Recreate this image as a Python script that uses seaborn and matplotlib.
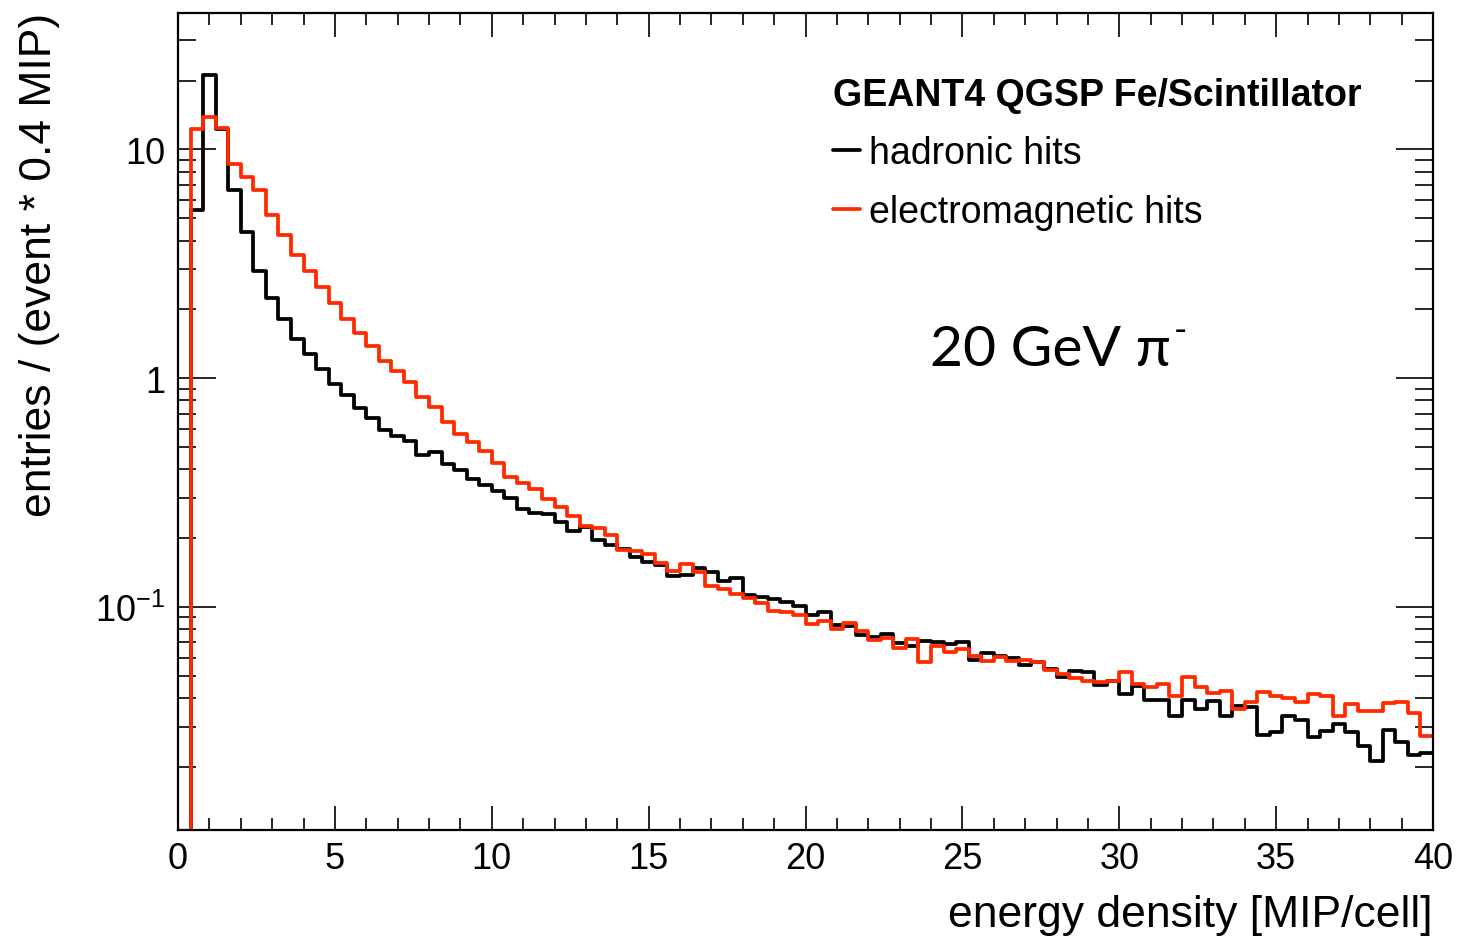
import numpy as np
import pandas as pd
import matplotlib
matplotlib.use("Agg")
import matplotlib.pyplot as plt
from matplotlib.ticker import (FixedLocator, FixedFormatter, LogLocator,
                               MultipleLocator, NullFormatter)
import seaborn as sns

# Energy density per cell, 100 bins of 0.4 MIP between 0 and 40 MIP/cell
bin_width = 0.4
n_bins = 100
x_range = (0.0, 40.0)

# entries / (event * 0.4 MIP), one value per bin
hadronic = [
    0.0, 5.46, 21.1, 12.3, 6.62, 4.36, 2.93, 2.24, 1.81, 1.49,
    1.28, 1.10, 0.946, 0.841, 0.743, 0.669, 0.595, 0.558, 0.533, 0.464,
    0.474, 0.422, 0.398, 0.361, 0.340, 0.323, 0.299, 0.267, 0.258, 0.254,
    0.236, 0.214, 0.223, 0.197, 0.187, 0.179, 0.165, 0.157, 0.153, 0.137,
    0.138, 0.148, 0.142, 0.130, 0.134, 0.113, 0.111, 0.108, 0.105, 0.101,
    0.0923, 0.0954, 0.0834, 0.0826, 0.0754, 0.0737, 0.0762, 0.0696, 0.0673, 0.0712,
    0.0706, 0.0689, 0.0701, 0.0588, 0.0629, 0.0612, 0.0596, 0.0557, 0.0573, 0.0535,
    0.0492, 0.0526, 0.0518, 0.0456, 0.0476, 0.0416, 0.0450, 0.0393, 0.0393, 0.0334,
    0.0393, 0.0360, 0.0389, 0.0334, 0.0368, 0.0364, 0.0275, 0.0283, 0.0334, 0.0321,
    0.0269, 0.0287, 0.0308, 0.0285, 0.0246, 0.0213, 0.0289, 0.0257, 0.0225, 0.0231,
]

electromagnetic = [
    0.0, 12.3, 13.8, 12.4, 8.68, 7.59, 6.64, 5.16, 4.22, 3.47,
    2.93, 2.51, 2.14, 1.81, 1.58, 1.38, 1.19, 1.08, 0.962, 0.827,
    0.750, 0.643, 0.568, 0.526, 0.483, 0.427, 0.369, 0.349, 0.329, 0.297,
    0.273, 0.249, 0.227, 0.222, 0.207, 0.178, 0.175, 0.171, 0.156, 0.143,
    0.154, 0.142, 0.124, 0.120, 0.114, 0.109, 0.104, 0.0964, 0.0948, 0.0923,
    0.0843, 0.0866, 0.0801, 0.0851, 0.0788, 0.0719, 0.0729, 0.0659, 0.0724, 0.0575,
    0.0675, 0.0637, 0.0655, 0.0612, 0.0582, 0.0606, 0.0579, 0.0586, 0.0577, 0.0532,
    0.0509, 0.0488, 0.0476, 0.0471, 0.0476, 0.0521, 0.0460, 0.0445, 0.0460, 0.0408,
    0.0492, 0.0445, 0.0423, 0.0430, 0.0358, 0.0385, 0.0426, 0.0407, 0.0400, 0.0383,
    0.0416, 0.0407, 0.0334, 0.0376, 0.0350, 0.0350, 0.0380, 0.0385, 0.0344, 0.0272,
]

series_names = ["hadronic hits", "electromagnetic hits"]
series_colors = ["#000000", "#ff2a00"]

y_tick_values = [0.1, 1, 10]
y_tick_labels = ["$10^{-1}$", "1", "10"]

sns.set_style("ticks")
plt.rcParams["font.family"] = ["Liberation Sans", "DejaVu Sans"]
plt.rcParams["mathtext.fontset"] = "custom"
plt.rcParams["mathtext.rm"] = "Liberation Sans"
plt.rcParams["mathtext.it"] = "Liberation Sans:italic"
plt.rcParams["mathtext.bf"] = "Liberation Sans:bold"
for key in ["axes.edgecolor", "text.color", "axes.labelcolor",
            "xtick.color", "ytick.color"]:
    plt.rcParams[key] = "black"

# bin centres, used as the sample position of each weighted entry
centers = x_range[0] + bin_width * (np.arange(n_bins) + 0.5)

df = pd.DataFrame({
    "energy": np.concatenate([centers, centers]),
    "entries": hadronic + electromagnetic,
    "hits": [series_names[0]] * n_bins + [series_names[1]] * n_bins,
})

W, H = 1457, 945
fig = plt.figure(figsize=(W / 100, H / 100), dpi=100)
ax = fig.add_axes([178 / W, 1 - 831 / H, (1433 - 178) / W, (831 - 14) / H])

handles = []
for name, color in zip(series_names, series_colors):
    sns.histplot(data=df[df["hits"] == name], x="energy", weights="entries",
                 bins=n_bins, binrange=x_range, element="step", fill=False,
                 color=color, linewidth=2.7, ax=ax)
    line = ax.get_lines()[-1]
    line.set_label(name)
    handles.append(line)

ax.set_yscale("log")
ax.set_xlim(*x_range)
ax.set_ylim(0.0106, 39.5)

ax.xaxis.set_major_locator(MultipleLocator(5))
ax.xaxis.set_minor_locator(MultipleLocator(1))
ax.yaxis.set_major_locator(FixedLocator(y_tick_values))
ax.yaxis.set_major_formatter(FixedFormatter(y_tick_labels))
ax.yaxis.set_minor_locator(LogLocator(base=10, subs=np.arange(2, 10)))
ax.yaxis.set_minor_formatter(NullFormatter())

ax.tick_params(axis="both", which="both", direction="in", top=True,
               right=True, width=1.2, color="black", labelcolor="black",
               labelsize=26)
ax.tick_params(axis="x", which="major", length=17, pad=8)
ax.tick_params(axis="x", which="minor", length=8.6)
ax.tick_params(axis="y", which="major", length=27, pad=9)
ax.tick_params(axis="y", which="minor", length=13)
for spine in ax.spines.values():
    spine.set_linewidth(1.6)
    spine.set_color("black")

ax.set_xlabel("energy density [MIP/cell]", fontsize=32, ha="right",
              color="black")
ax.xaxis.set_label_coords(1.0, -0.078)
ax.set_ylabel("entries / (event * 0.4 MIP)", fontsize=32, color="black")
ax.yaxis.set_label_coords(-0.094, 0.693)

leg = ax.legend(handles=handles, title="GEANT4 QGSP Fe/Scintillator",
                title_fontproperties={"weight": "bold", "size": 27},
                fontsize=27, frameon=False, loc="upper left",
                bbox_to_anchor=(833 / W, 1 - 78 / H),
                bbox_transform=fig.transFigure,
                alignment="left", borderpad=0, borderaxespad=0,
                handlelength=0.72, handletextpad=0.25, labelspacing=0.6)
leg.get_title().set_color("black")
for txt in leg.get_texts():
    txt.set_color("black")

beam = fig.text(930 / W, 1 - 366 / H, "20 GeV π",
                family=["Lato", "Open Sans", "DejaVu Sans"], fontsize=41,
                va="baseline", color="black")
ax.annotate("-", xy=(1.0, 0.55), xycoords=beam, xytext=(2, 0),
            textcoords="offset points", fontsize=26, color="black",
            family=["Lato", "Open Sans", "DejaVu Sans"], va="bottom", ha="left")

fig.savefig("out.png", dpi=100)
